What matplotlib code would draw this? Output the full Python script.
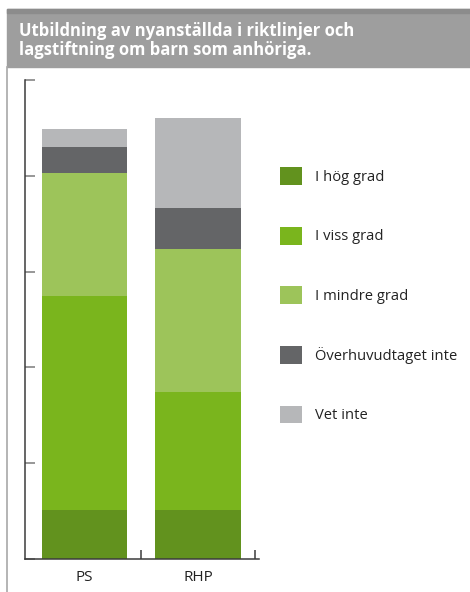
import numpy as np
import matplotlib
matplotlib.use("Agg")
import matplotlib.pyplot as plt
from matplotlib.patches import Rectangle
from matplotlib.lines import Line2D

# =============================================================================
# DATA (percent of respondents)
# =============================================================================
groups = ["PS", "RHP"]
series_labels = ["I hög grad", "I viss grad", "I mindre grad",
                 "Överhuvudtaget inte", "Vet inte"]
hog_grad = [10.2, 10.2]
viss_grad = [44.7, 24.7]
mindre_grad = [25.7, 29.8]
overhuvud_inte = [5.4, 8.6]
vet_inte = [3.8, 18.8]
series_colors = ["#62921e", "#7ab51d", "#9dc45a", "#646567", "#b6b7b9"]
title = "Utbildning av nyanställda i riktlinjer och\nlagstiftning om barn som anhöriga."
# =============================================================================

W, H = 470, 592
plt.rcParams["font.family"] = ["Open Sans", "DejaVu Sans"]

fig = plt.figure(figsize=(W / 100, H / 100), dpi=100)


def fx(px):
    return px / W


def fy(py):
    return 1 - py / H


# header band and frame line
fig.patches.append(Rectangle((fx(7), fy(67)), fx(W - 7), (67 - 9) / H,
                             transform=fig.transFigure, color="#9e9e9e", zorder=0))
fig.patches.append(Rectangle((fx(7), fy(13)), fx(W - 7), 4 / H,
                             transform=fig.transFigure, color="#8c8c8c", zorder=0))
fig.lines.append(Line2D([fx(7.5), fx(7.5)], [fy(67), 0], transform=fig.transFigure,
                        color="#a8a8a8", linewidth=1.2))
fig.text(fx(19), fy(22), title, color="white", fontsize=12, fontweight="bold",
         va="top", ha="left", linespacing=1.05)

ax = fig.add_axes([fx(25), 1 - 559 / H, fx(259 - 25), (559 - 80) / H])

x = np.arange(len(groups))
series = [hog_grad, viss_grad, mindre_grad, overhuvud_inte, vet_inte]
bottom = np.zeros(len(groups))
for vals, lab, col in zip(series, series_labels, series_colors):
    ax.bar(x, vals, width=0.75, bottom=bottom, color=col, label=lab, linewidth=0)
    bottom += np.array(vals)

ax.set_xlim(-0.52, 1.535)
ax.set_ylim(0, 100)

for s in ["top", "right"]:
    ax.spines[s].set_visible(False)
ax.spines["left"].set_color("#3c3c3c")
ax.spines["bottom"].set_color("#3c3c3c")
ax.spines["left"].set_linewidth(1.1)
ax.spines["bottom"].set_linewidth(1.1)

ax.set_yticks(np.arange(0, 101, 20))
ax.tick_params(axis="y", direction="in", length=7.2, width=1.1, color="#7a7a7a",
               labelleft=False)
ax.set_xticks(x)
ax.set_xticklabels(groups)
ax.tick_params(axis="x", which="major", length=0, pad=8, labelsize=11, labelcolor="#222222")
ax.set_xticks([0.5, 1.5], minor=True)
ax.tick_params(axis="x", which="minor", direction="in", length=6.5, width=1.1,
               color="#3c3c3c")

ax.legend(loc="upper left", bbox_to_anchor=(fx(280), fy(167)),
          bbox_transform=fig.transFigure, frameon=False, fontsize=10.6,
          handlelength=1.5, handleheight=1.5, handletextpad=0.85,
          labelspacing=2.83, borderpad=0, borderaxespad=0, labelcolor="#222222")

fig.savefig("out.png", dpi=100)
